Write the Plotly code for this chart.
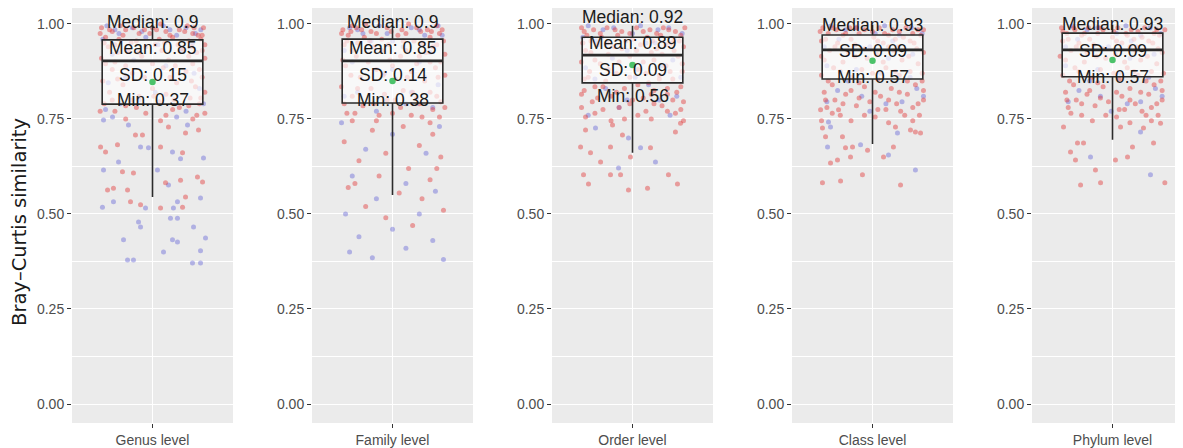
import plotly.graph_objects as go

# ---------------- data ----------------
levels = ["Genus level", "Family level", "Order level", "Class level", "Phylum level"]
q1 = [0.789, 0.792, 0.845, 0.855, 0.861]
median = [0.903, 0.903, 0.918, 0.932, 0.932]
q3 = [0.958, 0.960, 0.965, 0.971, 0.976]
lower_whisker = [0.545, 0.550, 0.661, 0.684, 0.695]
upper_whisker = [0.995, 0.995, 0.995, 0.998, 0.998]
means = [0.847, 0.850, 0.892, 0.903, 0.905]

label_median = ["Median: 0.9", "Median: 0.9", "Median: 0.92", "Median: 0.93", "Median: 0.93"]
label_mean = ["Mean: 0.85", "Mean: 0.85", "Mean: 0.89", None, None]
label_sd = ["SD: 0.15", "SD: 0.14", "SD: 0.09", "SD: 0.09", "SD: 0.09"]
label_min = ["Min: 0.37", "Min: 0.38", "Min: 0.56", "Min: 0.57", "Min: 0.57"]
label_y_median = [1.005, 1.005, 1.018, 0.997, 1.000]
label_y_mean = [0.937, 0.937, 0.950, None, None]
label_y_sd = [0.866, 0.866, 0.880, 0.930, 0.930]
label_y_min = [0.800, 0.800, 0.810, 0.860, 0.860]

y_ticks = [0.0, 0.25, 0.5, 0.75, 1.0]
y_ticklabels = ["0.00", "0.25", "0.50", "0.75", "1.00"]

# jittered samples: [horizontal jitter, similarity]
genus_red = [
    [-0.38, 0.99], [-0.30, 0.98], [-0.20, 0.985], [-0.10, 0.975], [0.00, 0.99], [0.10, 0.98], [0.20, 0.985],
    [0.30, 0.975], [0.38, 0.99], [-0.35, 0.965], [-0.25, 0.96], [-0.12, 0.955], [0.05, 0.96], [0.15, 0.965],
    [0.27, 0.955], [0.36, 0.96], [-0.33, 0.94], [-0.18, 0.93], [0.02, 0.945], [0.22, 0.935], [0.33, 0.925],
    [-0.38, 0.91], [-0.28, 0.90], [-0.08, 0.915], [0.12, 0.905], [0.30, 0.895], [0.39, 0.91], [-0.30, 0.88],
    [-0.15, 0.87], [0.08, 0.885], [0.25, 0.875], [0.37, 0.86], [-0.37, 0.85], [-0.22, 0.84], [0.00, 0.83],
    [0.18, 0.845], [0.32, 0.835], [-0.32, 0.82], [-0.10, 0.81], [0.10, 0.815], [0.28, 0.805], [0.39, 0.82],
    [-0.36, 0.79], [-0.20, 0.785], [0.05, 0.795], [0.20, 0.78], [0.35, 0.79], [-0.28, 0.77], [-0.05, 0.765],
    [0.15, 0.775], [0.33, 0.76], [-0.24, 0.995], [0.06, 1.0], [0.26, 0.995], [-0.06, 0.985], [0.34, 0.97],
    [-0.39, 0.975], [-0.32, 0.985], [-0.22, 0.97], [-0.14, 0.99], [-0.02, 0.975], [0.03, 0.985], [0.13, 0.97],
    [0.24, 0.98], [0.31, 0.99], [0.37, 0.97], [-0.36, 0.95], [-0.28, 0.945], [-0.16, 0.95], [-0.05, 0.94],
    [0.09, 0.95], [0.19, 0.945], [0.29, 0.94], [0.39, 0.945], [-0.26, 0.925], [-0.10, 0.925], [0.07, 0.93],
    [0.27, 0.915], [0.37, 0.93], [-0.35, 0.895], [-0.20, 0.89], [0.00, 0.895], [0.17, 0.89], [0.35, 0.88],
    [-0.26, 0.855], [-0.06, 0.86], [0.13, 0.86], [0.29, 0.85], [-0.30, 0.80], [-0.16, 0.80], [0.01, 0.81],
    [0.16, 0.80], [0.36, 0.805], [-0.39, 0.77], [-0.12, 0.78], [0.10, 0.76], [0.27, 0.785], [0.39, 0.765],
    [-0.20, 0.75], [0.06, 0.745], [0.30, 0.75],
    [-0.127, 0.708], [-0.075, 0.708], [-0.261, 0.682], [-0.387, 0.676], [-0.350, 0.663], [0.060, 0.676],
    [0.224, 0.661], [0.119, 0.729], [0.343, 0.721], [0.246, 0.713], [-0.224, 0.611], [-0.142, 0.608],
    [0.097, 0.582], [0.209, 0.589], [0.335, 0.597], [0.373, 0.584], [-0.335, 0.563], [-0.291, 0.568],
    [-0.186, 0.563], [-0.164, 0.532], [-0.089, 0.524], [0.060, 0.516], [0.246, 0.545], [0.224, 0.518],
]
genus_blue = [
    [-0.34, 0.995], [-0.15, 0.99], [0.08, 0.995], [0.25, 0.99], [0.36, 0.985], [-0.25, 0.975], [0.18, 0.97],
    [-0.05, 0.965], [0.30, 0.95], [-0.30, 0.92], [0.10, 0.89], [-0.20, 0.86], [0.35, 0.83], [-0.10, 0.80],
    [0.25, 0.77], [-0.35, 0.775], [-0.28, 0.985], [-0.08, 0.98], [0.13, 0.985], [0.32, 0.975], [-0.37, 0.96],
    [0.04, 0.945], [0.22, 0.93], [-0.14, 0.905], [0.31, 0.87], [-0.33, 0.845], [0.02, 0.82], [-0.24, 0.79],
    [0.18, 0.755], [0.38, 0.79],
    [-0.365, 0.747], [-0.298, 0.755], [-0.179, 0.734], [-0.089, 0.676], [-0.030, 0.674], [0.149, 0.663],
    [0.209, 0.645], [-0.253, 0.637], [0.261, 0.734], [0.380, 0.647], [-0.365, 0.616], [0.037, 0.616],
    [0.119, 0.576], [-0.291, 0.532], [-0.052, 0.516], [0.186, 0.532], [0.156, 0.516], [0.358, 0.542],
    [-0.373, 0.518], [-0.104, 0.479], [-0.089, 0.466], [0.134, 0.489], [0.186, 0.489], [0.306, 0.466],
    [-0.216, 0.432], [0.149, 0.432], [0.186, 0.426], [0.395, 0.437], [0.082, 0.400], [0.358, 0.403],
    [-0.186, 0.379], [-0.142, 0.379], [0.298, 0.371], [0.358, 0.371],
]
family_red = [
    [-0.37, 0.985], [-0.27, 0.99], [-0.16, 0.98], [-0.04, 0.99], [0.07, 0.985], [0.18, 0.99], [0.29, 0.98],
    [0.37, 0.985], [-0.33, 0.97], [-0.21, 0.965], [-0.08, 0.96], [0.04, 0.97], [0.16, 0.955], [0.28, 0.965],
    [0.38, 0.955], [-0.36, 0.945], [-0.14, 0.94], [0.10, 0.93], [0.30, 0.94], [-0.27, 0.915], [-0.02, 0.905],
    [0.20, 0.915], [0.36, 0.90], [-0.35, 0.89], [-0.12, 0.88], [0.14, 0.875], [0.32, 0.885], [-0.24, 0.86],
    [0.02, 0.855], [0.24, 0.85], [0.39, 0.865], [-0.38, 0.835], [-0.16, 0.83], [0.08, 0.825], [0.28, 0.82],
    [-0.30, 0.81], [-0.04, 0.80], [0.18, 0.805], [0.36, 0.795], [-0.22, 0.785], [0.06, 0.78], [0.30, 0.775],
    [-0.34, 0.765], [-0.10, 0.76], [0.22, 0.755], [-0.20, 1.0], [0.12, 1.0], [0.33, 0.995], [-0.30, 0.995],
    [-0.38, 0.975], [-0.31, 0.98], [-0.23, 0.985], [-0.12, 0.975], [-0.01, 0.98], [0.10, 0.975], [0.21, 0.98],
    [0.26, 0.985], [0.35, 0.975], [-0.34, 0.955], [-0.26, 0.95], [-0.17, 0.955], [-0.03, 0.945], [0.08, 0.955],
    [0.22, 0.95], [0.33, 0.945], [-0.30, 0.93], [-0.08, 0.93], [0.06, 0.915], [0.25, 0.925], [0.39, 0.92],
    [-0.37, 0.905], [-0.18, 0.90], [0.00, 0.89], [0.18, 0.895], [0.28, 0.90], [-0.31, 0.865], [-0.07, 0.865],
    [0.11, 0.86], [0.34, 0.86], [-0.26, 0.83], [-0.06, 0.815], [0.15, 0.82], [0.33, 0.81], [-0.36, 0.79],
    [-0.14, 0.79], [0.02, 0.80], [0.20, 0.79], [0.39, 0.78], [-0.28, 0.765], [0.00, 0.765], [0.14, 0.76],
    [0.35, 0.755], [-0.12, 0.745], [0.28, 0.74],
    [-0.30, 0.745], [-0.15, 0.72], [0.08, 0.73], [0.30, 0.71], [-0.36, 0.69], [0.20, 0.68], [-0.05, 0.66],
    [0.36, 0.65], [-0.25, 0.64], [0.12, 0.62], [-0.10, 0.60], [0.28, 0.59], [-0.33, 0.57], [0.05, 0.555],
    [0.22, 0.54], [-0.20, 0.52], [0.38, 0.51], [-0.05, 0.49], [0.15, 0.47], [-0.28, 0.58], [0.33, 0.62],
]
family_blue = [
    [-0.32, 0.99], [-0.10, 0.995], [0.14, 0.99], [0.34, 0.995], [-0.22, 0.975], [0.24, 0.97], [0.00, 0.955],
    [-0.36, 0.93], [0.20, 0.90], [-0.06, 0.87], [0.34, 0.84], [-0.26, 0.82], [0.10, 0.79], [-0.26, 0.985],
    [-0.04, 0.975], [0.20, 0.985], [0.37, 0.97], [-0.16, 0.955], [0.08, 0.94], [0.28, 0.925], [-0.30, 0.90],
    [0.00, 0.88], [0.24, 0.86], [-0.36, 0.81], [0.14, 0.82], [-0.12, 0.77], [0.30, 0.78],
    [-0.38, 0.74], [0.00, 0.71], [0.35, 0.73], [-0.20, 0.67], [0.25, 0.66], [-0.30, 0.60], [0.10, 0.58],
    [0.32, 0.56], [-0.12, 0.54], [-0.35, 0.50], [0.20, 0.50], [0.00, 0.46], [-0.25, 0.44], [0.30, 0.43],
    [0.10, 0.41], [-0.15, 0.385], [0.38, 0.38], [-0.32, 0.40],
]
order_red = [
    [-0.38, 0.99], [-0.29, 0.985], [-0.19, 0.99], [-0.08, 0.98], [0.03, 0.99], [0.13, 0.985], [0.23, 0.99],
    [0.32, 0.98], [0.39, 0.99], [-0.34, 0.97], [-0.23, 0.965], [-0.11, 0.97], [0.00, 0.96], [0.11, 0.965],
    [0.21, 0.97], [0.31, 0.96], [-0.37, 0.95], [-0.26, 0.945], [-0.14, 0.94], [0.06, 0.945], [0.18, 0.935],
    [0.29, 0.95], [0.38, 0.94], [-0.31, 0.925], [-0.18, 0.92], [-0.02, 0.915], [0.14, 0.925], [0.34, 0.915],
    [-0.38, 0.90], [-0.24, 0.895], [0.08, 0.90], [0.25, 0.89], [-0.32, 0.875], [-0.12, 0.87], [0.04, 0.88],
    [0.20, 0.865], [0.37, 0.875], [-0.36, 0.855], [-0.20, 0.85], [0.12, 0.845], [0.30, 0.855], [-0.28, 0.835],
    [-0.06, 0.83], [0.16, 0.825], [0.36, 0.835], [-0.38, 0.815], [-0.16, 0.81], [0.08, 0.805], [0.26, 0.815],
    [-0.30, 0.795], [-0.02, 0.79], [0.22, 0.785], [0.38, 0.795], [-0.22, 0.775], [0.10, 0.77], [0.32, 0.765],
    [-0.35, 0.755], [-0.06, 0.75],
    [-0.36, 0.98], [-0.24, 0.975], [-0.13, 0.985], [-0.02, 0.975], [0.08, 0.98], [0.18, 0.975], [0.27, 0.985],
    [0.36, 0.97], [-0.31, 0.955], [-0.19, 0.95], [-0.05, 0.955], [0.15, 0.955], [0.25, 0.945], [0.35, 0.955],
    [-0.35, 0.93], [-0.08, 0.935], [0.03, 0.93], [0.22, 0.92], [0.31, 0.93], [-0.28, 0.905], [-0.10, 0.90],
    [0.16, 0.905], [0.37, 0.895], [-0.18, 0.88], [0.10, 0.87], [0.28, 0.875], [-0.33, 0.86], [-0.02, 0.86],
    [0.20, 0.855], [-0.22, 0.835], [0.04, 0.84], [0.26, 0.83], [-0.36, 0.825], [-0.12, 0.82], [0.14, 0.815],
    [0.33, 0.82], [-0.26, 0.805], [0.00, 0.80], [0.30, 0.80], [-0.38, 0.78], [-0.10, 0.78], [0.16, 0.79],
    [0.36, 0.775], [-0.28, 0.765], [0.04, 0.76], [0.26, 0.77], [-0.16, 0.745], [0.14, 0.75], [0.38, 0.745],
    [-0.350, 0.721], [-0.149, 0.734], [-0.075, 0.708], [0.134, 0.674], [-0.387, 0.676], [-0.313, 0.661],
    [-0.164, 0.676], [-0.238, 0.637], [-0.015, 0.650], [0.320, 0.716], [0.358, 0.739], [-0.365, 0.603],
    [-0.164, 0.603], [-0.089, 0.603], [0.268, 0.603], [-0.328, 0.579], [-0.030, 0.563], [0.112, 0.568],
    [0.335, 0.579],
]
order_blue = [
    [-0.33, 0.995], [-0.14, 0.99], [0.06, 0.995], [0.27, 0.99], [0.37, 0.975], [-0.27, 0.955], [0.17, 0.95],
    [-0.04, 0.93], [0.30, 0.905], [-0.35, 0.885], [0.02, 0.86], [-0.20, 0.83], [0.33, 0.81], [-0.10, 0.78],
    [0.20, 0.80], [-0.22, 0.985], [0.00, 0.975], [0.19, 0.985], [-0.37, 0.965], [0.10, 0.95], [-0.15, 0.91],
    [0.22, 0.89], [-0.28, 0.855], [0.12, 0.84], [0.36, 0.86], [-0.04, 0.80], [0.28, 0.76], [-0.33, 0.76],
    [-0.276, 0.726], [-0.030, 0.700], [0.060, 0.674], [-0.104, 0.621], [0.171, 0.637],
]
class_red = [
    [-0.37, 0.99], [-0.27, 0.985], [-0.17, 0.99], [-0.06, 0.985], [0.05, 0.99], [0.15, 0.985], [0.25, 0.99],
    [0.34, 0.985], [-0.33, 0.975], [-0.22, 0.97], [-0.10, 0.975], [0.01, 0.965], [0.12, 0.97], [0.23, 0.965],
    [0.36, 0.97], [-0.38, 0.955], [-0.26, 0.95], [-0.13, 0.945], [0.08, 0.95], [0.19, 0.94], [0.31, 0.95],
    [-0.32, 0.93], [-0.18, 0.925], [0.03, 0.92], [0.16, 0.93], [0.38, 0.925], [-0.36, 0.905], [-0.22, 0.90],
    [-0.04, 0.91], [0.22, 0.905], [0.34, 0.895], [-0.29, 0.885], [-0.08, 0.88], [0.10, 0.885], [0.28, 0.875],
    [-0.38, 0.865], [-0.16, 0.86], [0.04, 0.855], [0.20, 0.865], [0.37, 0.85], [-0.30, 0.84], [-0.06, 0.835],
    [0.14, 0.83], [0.32, 0.84], [-0.36, 0.82], [-0.20, 0.815], [0.06, 0.81], [0.26, 0.815], [-0.28, 0.80],
    [-0.02, 0.795], [0.18, 0.79], [0.38, 0.80], [-0.34, 0.78], [-0.12, 0.785], [0.10, 0.775], [0.30, 0.78],
    [-0.24, 0.76], [0.02, 0.755], [0.24, 0.76],
    [-0.39, 0.98], [-0.30, 0.99], [-0.20, 0.975], [-0.12, 0.99], [0.00, 0.98], [0.09, 0.975], [0.20, 0.98],
    [0.30, 0.975], [0.38, 0.985], [-0.35, 0.96], [-0.16, 0.96], [0.04, 0.955], [0.17, 0.96], [0.28, 0.955],
    [-0.28, 0.94], [-0.06, 0.935], [0.12, 0.94], [0.33, 0.935], [-0.38, 0.915], [-0.13, 0.915], [0.08, 0.90],
    [0.27, 0.915], [-0.24, 0.875], [0.00, 0.87], [0.17, 0.875], [0.37, 0.87], [-0.33, 0.85], [-0.10, 0.845],
    [0.26, 0.85], [-0.16, 0.825], [0.02, 0.82], [0.20, 0.82], [0.38, 0.825], [-0.35, 0.80], [-0.10, 0.805],
    [0.12, 0.80], [0.34, 0.79], [-0.22, 0.79], [0.04, 0.775], [0.21, 0.77], [-0.30, 0.765], [-0.06, 0.76],
    [0.35, 0.76], [-0.16, 0.745], [0.12, 0.74], [0.30, 0.745], [-0.38, 0.745],
    [-0.387, 0.774], [-0.253, 0.774], [-0.373, 0.726], [-0.224, 0.703], [-0.350, 0.703], [-0.201, 0.674],
    [-0.149, 0.676], [-0.037, 0.668], [0.171, 0.729], [0.283, 0.721], [0.320, 0.716], [0.358, 0.713],
    [0.156, 0.676], [0.082, 0.650], [-0.164, 0.650], [-0.261, 0.642], [-0.313, 0.634], [-0.373, 0.582],
    [-0.238, 0.587], [-0.075, 0.603], [0.209, 0.576],
]
class_blue = [
    [-0.31, 0.995], [-0.12, 0.99], [0.09, 0.995], [0.29, 0.99], [0.37, 0.975], [-0.25, 0.96], [0.15, 0.955],
    [-0.02, 0.94], [0.30, 0.92], [-0.34, 0.89], [0.06, 0.87], [-0.18, 0.85], [0.33, 0.83], [-0.08, 0.81],
    [0.22, 0.795], [-0.20, 0.985], [0.02, 0.975], [0.20, 0.97], [-0.36, 0.94], [0.12, 0.91], [-0.12, 0.88],
    [0.28, 0.86], [-0.26, 0.825], [0.10, 0.79], [0.38, 0.81], [-0.02, 0.77], [-0.34, 0.795],
    [-0.328, 0.742], [-0.313, 0.729], [-0.335, 0.676], [-0.089, 0.682], [0.186, 0.713], [0.119, 0.655],
    [0.320, 0.616],
]
phylum_red = [
    [-0.38, 0.99], [-0.28, 0.985], [-0.18, 0.99], [-0.07, 0.985], [0.04, 0.99], [0.14, 0.985], [0.24, 0.99],
    [0.33, 0.985], [-0.34, 0.975], [-0.23, 0.97], [-0.11, 0.975], [0.00, 0.965], [0.11, 0.97], [0.22, 0.965],
    [0.35, 0.97], [-0.37, 0.955], [-0.25, 0.95], [-0.14, 0.945], [0.07, 0.95], [0.18, 0.94], [0.30, 0.95],
    [-0.31, 0.93], [-0.19, 0.925], [0.02, 0.92], [0.17, 0.93], [0.37, 0.925], [-0.35, 0.905], [-0.21, 0.90],
    [-0.05, 0.91], [0.21, 0.905], [0.33, 0.895], [-0.28, 0.885], [-0.09, 0.88], [0.11, 0.885], [0.29, 0.875],
    [-0.37, 0.865], [-0.15, 0.86], [0.05, 0.855], [0.19, 0.865], [0.36, 0.85], [-0.29, 0.84], [-0.07, 0.835],
    [0.13, 0.83], [0.31, 0.84], [-0.35, 0.82], [-0.19, 0.815], [0.07, 0.81], [0.27, 0.815], [-0.27, 0.80],
    [-0.03, 0.795], [0.17, 0.79], [0.37, 0.80], [-0.33, 0.78], [-0.13, 0.785], [0.09, 0.775], [0.29, 0.78],
    [-0.23, 0.76], [0.03, 0.755], [0.25, 0.76],
    [-0.37, 0.98], [-0.29, 0.99], [-0.21, 0.975], [-0.10, 0.99], [0.01, 0.98], [0.10, 0.975], [0.19, 0.98],
    [0.31, 0.975], [0.39, 0.985], [-0.33, 0.96], [-0.17, 0.96], [0.03, 0.955], [0.16, 0.96], [0.27, 0.955],
    [-0.27, 0.94], [-0.07, 0.935], [0.13, 0.94], [0.34, 0.935], [-0.39, 0.915], [-0.12, 0.915], [0.09, 0.90],
    [0.26, 0.915], [-0.25, 0.875], [0.01, 0.87], [0.16, 0.875], [0.38, 0.87], [-0.32, 0.85], [-0.11, 0.845],
    [0.25, 0.85], [-0.17, 0.825], [0.03, 0.82], [0.21, 0.82], [0.37, 0.825], [-0.34, 0.80], [-0.09, 0.805],
    [0.13, 0.80], [0.33, 0.79], [-0.23, 0.79], [0.05, 0.775], [0.22, 0.77], [-0.31, 0.765], [-0.05, 0.76],
    [0.34, 0.76], [-0.15, 0.745], [0.13, 0.74], [0.29, 0.745],
    [-0.365, 0.729], [-0.261, 0.687], [-0.216, 0.687], [-0.313, 0.663], [-0.276, 0.642], [0.022, 0.642],
    [0.112, 0.650], [0.149, 0.676], [0.231, 0.726], [0.306, 0.687], [0.358, 0.739], [0.060, 0.729],
    [-0.238, 0.576], [-0.089, 0.582], [0.390, 0.582], [-0.127, 0.616],
]
phylum_blue = [
    [-0.30, 0.995], [-0.11, 0.99], [0.10, 0.995], [0.28, 0.99], [0.36, 0.975], [-0.26, 0.96], [0.14, 0.955],
    [-0.03, 0.94], [0.31, 0.92], [-0.35, 0.89], [0.05, 0.87], [-0.17, 0.85], [0.32, 0.83], [-0.09, 0.81],
    [0.21, 0.795], [-0.19, 0.985], [0.03, 0.975], [0.21, 0.97], [-0.35, 0.94], [0.13, 0.91], [-0.11, 0.88],
    [0.27, 0.86], [-0.25, 0.825], [0.11, 0.79], [0.37, 0.81], [-0.01, 0.77], [-0.33, 0.795],
    [-0.164, 0.650], [0.209, 0.716], [0.283, 0.603],
]

red_points = [genus_red, family_red, order_red, class_red, phylum_red]
blue_points = [genus_blue, family_blue, order_blue, class_blue, phylum_blue]

# ---------------- figure ----------------
# the page body has an 8px margin, so the figure is 8px smaller than the window
W, H = 1175, 440
panel_left_px = [64, 304, 544, 784, 1024]
panel_w_px = 161
x_ranges = [[0.4, 1.6]] * 4 + [[0.4, 0.4 + (W - 1024) / panel_w_px * 1.2]]
y_range = [-0.05, 1.042]

FONT = "Liberation Sans, Arial, Helvetica, sans-serif"
RED = "rgba(226,58,58,0.45)"
BLUE = "rgba(95,95,215,0.42)"

fig = go.Figure()
layout = dict(
    width=W, height=H,
    margin=dict(l=0, r=0, t=0, b=25),
    paper_bgcolor="white",
    plot_bgcolor="#EBEBEB",
    showlegend=False,
    font=dict(family=FONT),
    annotations=[],
)

minor_vals = [0.125, 0.375, 0.625, 0.875]
for i in range(5):
    n = i + 1
    xa = "x" if n == 1 else f"x{n}"
    ya = "y" if n == 1 else f"y{n}"
    yo = f"y{n + 5}"
    left = panel_left_px[i] / W
    right = min((panel_left_px[i] + panel_w_px) / W, 1.0)
    layout[f"xaxis{n}"] = dict(
        domain=[left, right], range=x_ranges[i], anchor=ya,
        tickvals=[1], ticktext=[levels[i]], ticks="outside", ticklen=4, tickwidth=1.2,
        tickcolor="#333333", tickfont=dict(size=14, color="#4d4d4d"),
        showgrid=True, gridcolor="white", gridwidth=1.4, zeroline=False, showline=False,
        automargin=False, fixedrange=True,
    )
    layout[f"yaxis{n}"] = dict(
        range=y_range, anchor=xa, domain=[0, 1],
        tickvals=y_ticks, ticktext=y_ticklabels, ticks="outside", ticklen=4, tickwidth=1.2,
        tickcolor="#333333", tickfont=dict(size=14, color="#4d4d4d"),
        showgrid=True, gridcolor="white", gridwidth=1.4, zeroline=False, showline=False,
        minor=dict(tickvals=minor_vals, showgrid=True, gridcolor="white", gridwidth=0.7, ticks=""),
        automargin=False, fixedrange=True,
    )
    layout[f"yaxis{n + 5}"] = dict(
        range=y_range, anchor=xa, overlaying=ya, visible=False, showgrid=False,
        zeroline=False, fixedrange=True,
    )

    rp = red_points[i]
    bp = blue_points[i]
    fig.add_trace(go.Scatter(
        x=[1 + p[0] for p in bp], y=[p[1] for p in bp], mode="markers",
        marker=dict(size=5, color=BLUE, line=dict(width=0)),
        xaxis=xa, yaxis=ya, hoverinfo="skip",
    ))
    fig.add_trace(go.Scatter(
        x=[1 + p[0] for p in rp], y=[p[1] for p in rp], mode="markers",
        marker=dict(size=5, color=RED, line=dict(width=0)),
        xaxis=xa, yaxis=ya, hoverinfo="skip",
    ))
    # box summary on an overlay axis so that it sits above the points
    fig.add_trace(go.Box(
        x=[1], q1=[q1[i]], median=[median[i]], q3=[q3[i]],
        lowerfence=[lower_whisker[i]], upperfence=[upper_whisker[i]],
        width=0.75, whiskerwidth=0, boxpoints=False,
        fillcolor="rgba(255,255,255,0.66)", line=dict(color="#2b2b2b", width=1.6),
        xaxis=xa, yaxis=yo, hoverinfo="skip",
    ))
    # thicker median bar
    fig.add_trace(go.Scatter(
        x=[1 - 0.375, 1 + 0.375], y=[median[i], median[i]], mode="lines",
        line=dict(color="#2b2b2b", width=2.8), xaxis=xa, yaxis=yo, hoverinfo="skip",
    ))
    fig.add_trace(go.Scatter(
        x=[1], y=[means[i]], mode="markers",
        marker=dict(size=6.5, color="#4cc26a"), xaxis=xa, yaxis=yo, hoverinfo="skip",
    ))

    texts = [(label_median[i], label_y_median[i]), (label_mean[i], label_y_mean[i]),
             (label_sd[i], label_y_sd[i]), (label_min[i], label_y_min[i])]
    for t, yv in texts:
        if t is None:
            continue
        layout["annotations"].append(dict(
            x=1, y=yv, xref=xa, yref=ya, text=t, showarrow=False,
            font=dict(size=17.5, color="#1a1a1a", family=FONT),
            xanchor="center", yanchor="middle",
        ))

layout["annotations"].append(dict(
    x=12 / W, y=(H - 25 - 222 + 8) / (H - 25), xref="paper", yref="paper", text="Bray–Curtis similarity",
    textangle=-90, showarrow=False, font=dict(size=19.5, color="#1a1a1a", family="DejaVu Sans, sans-serif"),
    xanchor="center", yanchor="middle",
))

fig.update_layout(**layout)
fig.write_html("out.html")
